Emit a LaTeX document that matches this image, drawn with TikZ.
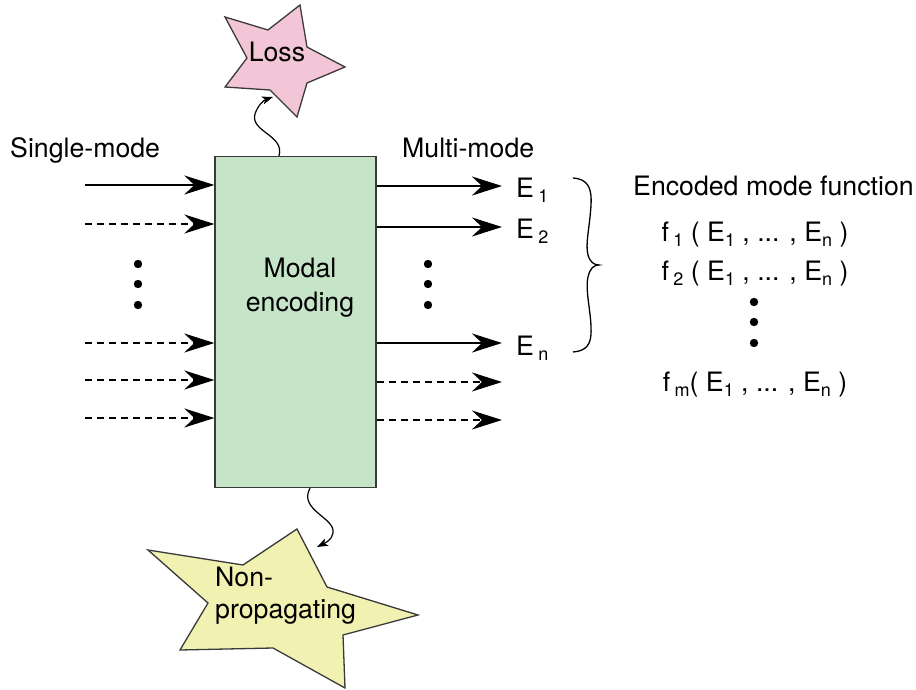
\documentclass[tikz,border=0pt]{standalone}
\usepackage{fontspec}
\setmainfont{TeX Gyre Heros}
\usetikzlibrary{arrows.meta}
\definecolor{boxfill}{HTML}{C6E4C8}
\definecolor{boxedge}{HTML}{3A3A3A}
\definecolor{losspink}{HTML}{F2C6D6}
\definecolor{npyellow}{HTML}{F1F1B1}
\newcommand\sbs[1]{\raisebox{-0.4ex}{\fontsize{18}{18}\selectfont #1}}
\begin{document}
\begin{tikzpicture}[x=1pt,y=-1pt,
  txt/.style={font=\fontsize{26.7}{30}\selectfont, inner sep=0pt},
  solidarrow/.style={line width=2.6pt, -{Stealth[length=30pt,width=19pt,inset=10pt]}},
  dasharrow/.style={solidarrow, dash pattern=on 7pt off 5pt},
  squig/.style={line width=1.2pt, -{Stealth[length=11pt,width=8pt,inset=3pt]}},
  star/.style={draw=boxedge, line width=1.3pt, line join=miter}
]
\useasboundingbox (0,0) rectangle (916,690);

% encoding box
\node[draw=boxedge, fill=boxfill, line width=1.3pt, minimum width=161pt, minimum height=331pt, inner sep=0pt] (enc) at (295.5,322) {};
\node[txt, align=center] (enclabel) at (300,288) {Modal\\[4pt]encoding};

% headings
\node[txt, anchor=base west] (single) at (10,158) {Single-mode};
\node[txt, anchor=base west] (multi) at (402,158) {Multi-mode};

% left arrows
\coordinate (l1) at (85,185);
\coordinate (l2) at (85,224);
\coordinate (l3) at (85,343);
\coordinate (l4) at (85,380);
\coordinate (l5) at (85,418);
\draw[solidarrow] (l1) -- (enc.west |- l1);
\draw[dasharrow] (l2) -- (enc.west |- l2);
\draw[dasharrow] (l3) -- (enc.west |- l3);
\draw[dasharrow] (l4) -- (enc.west |- l4);
\draw[dasharrow] (l5) -- (enc.west |- l5);
\foreach \yy in {264,284,305} \fill (138,\yy) circle (4.2pt);

% right arrows
\coordinate (r1) at (502,186);
\coordinate (r2) at (502,227);
\coordinate (r3) at (502,343);
\coordinate (r4) at (502,382);
\coordinate (r5) at (502,420);
\draw[solidarrow] (enc.east |- r1) -- (r1);
\draw[solidarrow] (enc.east |- r2) -- (r2);
\draw[solidarrow] (enc.east |- r3) -- (r3);
\draw[dasharrow] (enc.east |- r4) -- (r4);
\draw[dasharrow] (enc.east |- r5) -- (r5);
\foreach \yy in {264,284,305} \fill (428,\yy) circle (4.2pt);

% E labels
\node[txt, anchor=base west] (e1) at (516,197) {E\,\sbs{1}};
\node[txt, anchor=base west] (e2) at (516,238) {E\,\sbs{2}};
\node[txt, anchor=base west] (en) at (516,355) {E\,\sbs{n}};

% brace
\coordinate (bracetop) at (573,178);
\coordinate (bracebot) at (573,352);
\coordinate (bracetip) at (599,265);
\draw[line width=1.3pt] (bracetop)
  .. controls (588,179) and (592,188) .. (591,205)
  .. controls (590,225) and (585,245) .. (588,255)
  .. controls (590,262) and (594,265) .. (bracetip)
  .. controls (594,265) and (590,268) .. (588,277)
  .. controls (585,290) and (591,312) .. (591,328)
  .. controls (592,345) and (586,351) .. (bracebot);

% encoded mode functions
\node[txt, anchor=base west] (encoded) at (633,196) {Encoded mode function};
\node[txt, anchor=base] (f1) at (755,241) {f\,\sbs{1} ( E\sbs{1} , ... , E\sbs{n} )};
\node[txt, anchor=base] (f2) at (755,280) {f\,\sbs{2} ( E\sbs{1} , ... , E\sbs{n} )};
\foreach \yy in {302,322,343} \fill (754,\yy) circle (4.2pt);
\node[txt, anchor=base] (fm) at (755,391) {f\,\sbs{m}( E\sbs{1} , ... , E\sbs{n} )};

% loss star
\draw[star, fill=losspink] (225,17) -- (268,30) -- (300,5) -- (307,47) -- (345,67) -- (307,83) -- (297,117) -- (270,90) -- (225,87) -- (247,58) -- cycle;
\node[txt] (loss) at (277,52) {Loss};
\coordinate (losstip) at (273,97);
\draw[squig] (enc.north -| 279,0) .. controls (285,135) and (250,132) .. (255,114) .. controls (258,105) and (264,100) .. (losstip);

% non-propagating star
\draw[star, fill=npyellow] (148,550) -- (243,565) -- (297,529) -- (327,587) -- (418,615) -- (343,635) -- (345,688) -- (273,648) -- (180,650) -- (208,603) -- cycle;
\node[txt, align=left, anchor=north west] (np) at (215,567) {Non-\\[2pt]propagating};
\coordinate (nptip) at (317,547);
\draw[squig] (enc.south -| 310,0) .. controls (298,510) and (336,518) .. (333,533) .. controls (332,540) and (325,543) .. (nptip);
\end{tikzpicture}
\end{document}
